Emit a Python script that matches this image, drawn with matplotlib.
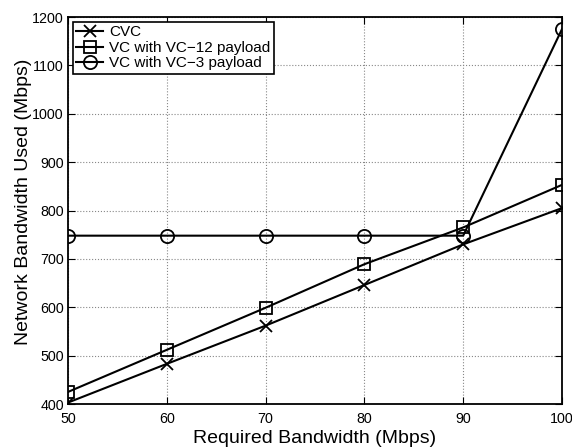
import matplotlib
matplotlib.use('Agg')
import matplotlib.pyplot as plt

plt.rcParams['font.family'] = ['Liberation Sans', 'DejaVu Sans']

bw = [50, 60, 70, 80, 90, 100]
cvc = [403, 483, 562, 646, 730, 805]
vc12 = [425, 512, 599, 689, 765, 853]
vc3 = [748, 748, 748, 748, 748, 1175]

fig = plt.figure(figsize=(5.72, 4.48), dpi=100, facecolor='w')
axs = fig.add_axes([0.1189, 0.0982, 0.8636, 0.8638])

axs.plot(bw, cvc, 'k-', marker='x', ms=8, mew=1.3, lw=1.5, label='CVC')
axs.plot(bw, vc12, 'k-', marker='s', ms=8, mfc='none', mew=1.3, lw=1.5, label='VC with VC\u221212 payload')
axs.plot(bw, vc3, 'k-', marker='o', ms=9.5, mfc='none', mew=1.3, lw=1.5, label='VC with VC\u22123 payload')

axs.set_xlim(50, 100)
axs.set_ylim(400, 1200)
axs.set_xticks(range(50, 101, 10))
axs.set_yticks(range(400, 1201, 100))
axs.tick_params(direction='in', labelsize=10.3, top=True, right=True, length=5)
axs.tick_params(axis='x', pad=6)
axs.tick_params(axis='y', pad=3)
axs.grid(True, linestyle=':', color='#888888', lw=0.8)
for s in axs.spines.values():
    s.set_linewidth(1.3)

axs.set_xlabel('Required Bandwidth (Mbps)', fontsize=14, labelpad=2.5)
axs.set_ylabel('Network Bandwidth Used (Mbps)', fontsize=14)
axs.yaxis.set_label_coords(-0.073, 0.522)

leg = axs.legend(loc='upper left', fontsize=11, fancybox=False, framealpha=1,
                 edgecolor='k', borderaxespad=0.3, handlelength=1.75,
                 handletextpad=0.4, borderpad=0.25, labelspacing=0.1)
leg.get_frame().set_linewidth(1.2)

fig.savefig('out.png', dpi=100)
